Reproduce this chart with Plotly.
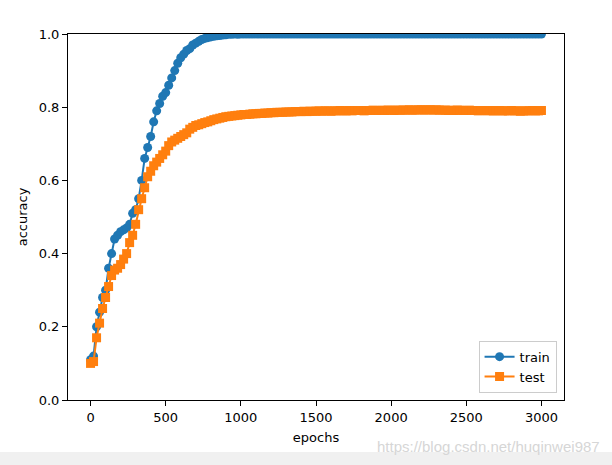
import plotly.graph_objects as go

epochs = list(range(0, 3001, 20))

train_acc = [
    0.11, 0.12, 0.20, 0.24, 0.28, 0.30, 0.36, 0.40, 0.44, 0.45, 0.46, 0.465, 0.47, 0.48, 0.51,
    0.52, 0.55, 0.60, 0.66, 0.69, 0.72, 0.76, 0.79, 0.81, 0.83, 0.84, 0.86, 0.88, 0.90, 0.92,
    0.935, 0.945, 0.955, 0.96, 0.97, 0.975, 0.98, 0.985, 0.988, 0.99, 0.992, 0.994, 0.995, 0.996, 0.997,
    0.998,
    0.999, 0.999, 1.0, 0.999, 1.0, 1.0, 1.0, 1.0, 1.0, 1.0, 1.0, 1.0, 1.0, 1.0, 1.0,
    1.0, 1.0, 1.0, 1.0, 1.0, 1.0, 1.0, 1.0, 1.0, 1.0, 1.0, 1.0, 1.0, 1.0, 1.0,
    1.0, 1.0, 1.0, 1.0, 1.0, 1.0, 1.0, 1.0, 1.0, 1.0, 1.0, 1.0, 1.0, 1.0, 1.0,
    1.0, 1.0, 1.0, 1.0, 1.0, 1.0, 1.0, 1.0, 1.0, 1.0, 1.0, 1.0, 1.0, 1.0, 1.0,
    1.0, 1.0, 1.0, 1.0, 1.0, 1.0, 1.0, 1.0, 1.0, 1.0, 1.0, 1.0, 1.0, 1.0, 1.0,
    1.0, 1.0, 1.0, 1.0, 1.0, 1.0, 1.0, 1.0, 1.0, 1.0, 1.0, 1.0, 1.0, 1.0, 1.0,
    1.0, 1.0, 1.0, 1.0, 1.0, 1.0, 1.0, 1.0, 1.0, 1.0, 1.0, 1.0, 1.0, 1.0, 1.0,
]

test_acc = [
    0.10, 0.105, 0.17, 0.21, 0.25, 0.28, 0.31, 0.34, 0.355, 0.36, 0.37, 0.385, 0.40, 0.43, 0.45,
    0.48, 0.52, 0.55, 0.58, 0.61, 0.625, 0.64, 0.65, 0.66, 0.67, 0.68, 0.695, 0.705, 0.71, 0.715,
    0.72, 0.725, 0.73, 0.74, 0.745, 0.75, 0.752, 0.755, 0.758, 0.76, 0.763, 0.766, 0.768, 0.77, 0.772,
    0.774, 0.775, 0.776, 0.777, 0.778, 0.779, 0.78, 0.78, 0.781, 0.782, 0.782, 0.783, 0.783, 0.784, 0.784,
    0.785, 0.785, 0.786, 0.786, 0.786, 0.787, 0.787, 0.787, 0.788, 0.788, 0.788, 0.789, 0.788, 0.789, 0.789,
    0.789, 0.79, 0.789, 0.79, 0.79, 0.789, 0.79, 0.79, 0.791, 0.79, 0.79, 0.791, 0.79, 0.791, 0.791,
    0.791, 0.79, 0.791, 0.791, 0.792, 0.791, 0.791, 0.792, 0.791, 0.792, 0.792, 0.791, 0.792, 0.792, 0.792,
    0.792, 0.793, 0.792, 0.792, 0.793, 0.793, 0.792, 0.793, 0.793, 0.792, 0.793, 0.792, 0.792, 0.792, 0.791,
    0.792, 0.791, 0.792, 0.792, 0.791, 0.791, 0.792, 0.791, 0.791, 0.79, 0.791, 0.791, 0.79, 0.791, 0.79,
    0.79, 0.791, 0.79, 0.79, 0.79, 0.791, 0.79, 0.79, 0.789, 0.79, 0.79, 0.79, 0.791, 0.79, 0.79,
    0.791,
]

x_ticks = [0, 500, 1000, 1500, 2000, 2500, 3000]
y_ticks = [0.0, 0.2, 0.4, 0.6, 0.8, 1.0]

FONT = "DejaVu Sans"

fig = go.Figure()
fig.add_trace(go.Scatter(
    x=epochs, y=train_acc, name="train", mode="lines+markers",
    line=dict(color="#1f77b4", width=2),
    marker=dict(symbol="circle", size=9, color="#1f77b4"),
))
fig.add_trace(go.Scatter(
    x=epochs, y=test_acc, name="test", mode="lines+markers",
    line=dict(color="#ff7f0e", width=2),
    marker=dict(symbol="square", size=9, color="#ff7f0e"),
))

axis_common = dict(
    showgrid=False, zeroline=False, showline=True, linecolor="black", linewidth=1,
    mirror=True, ticks="outside", ticklen=5, tickwidth=1, tickcolor="black",
    tickfont=dict(family=FONT, size=13, color="black"),
)

fig.update_layout(
    width=612, height=465,
    margin=dict(l=68, r=48, t=34, b=65),
    paper_bgcolor="white", plot_bgcolor="white",
    font=dict(family=FONT, size=13, color="black"),
    xaxis=dict(range=[-150, 3150], tickvals=x_ticks,
               title=dict(text="epochs", font=dict(family=FONT, size=13), standoff=9),
               **axis_common),
    yaxis=dict(range=[0, 1], tickvals=y_ticks, tickformat=".1f",
               title=dict(text="accuracy", font=dict(family=FONT, size=13), standoff=8),
               **axis_common),
    legend=dict(x=0.985, y=0.02, xanchor="right", yanchor="bottom",
                bgcolor="rgba(255,255,255,0.8)", bordercolor="#cccccc", borderwidth=1,
                font=dict(family=FONT, size=13), tracegroupgap=0),
    showlegend=True,
)

fig.add_shape(type="rect", xref="paper", yref="paper",
              x0=-0.2, x1=1.2, y0=-0.1776, y1=-0.142,
              fillcolor="#f0f0f0", line=dict(width=0), layer="below")
fig.add_annotation(text="https://blog.csdn.net/huqinwei987", xref="paper", yref="paper",
                   x=1.077, y=-0.128, xanchor="right", yanchor="middle", showarrow=False,
                   font=dict(family="Liberation Sans", size=15, color="#d6d6d6"))

fig.write_html("out.html")
